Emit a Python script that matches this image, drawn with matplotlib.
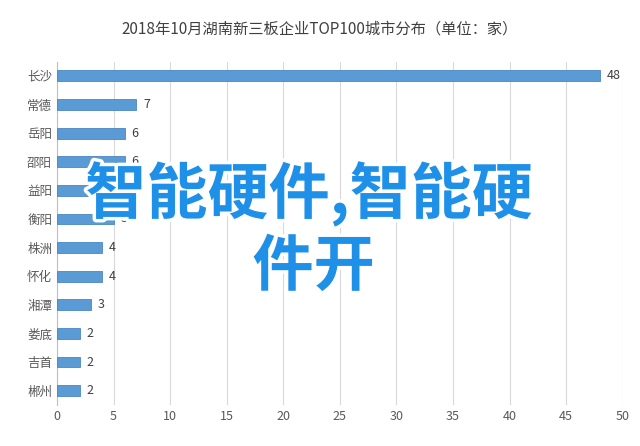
import matplotlib.pyplot as plt
import matplotlib.patheffects as pe

plt.rcParams['font.family'] = 'Noto Sans CJK SC'

cities = ['长沙', '常德', '岳阳', '邵阳', '益阳', '衡阳', '株洲', '怀化', '湘潭', '娄底', '吉首', '郴州']
counts = [48, 7, 6, 6, 5, 5, 4, 4, 3, 2, 2, 2]
xticks = list(range(0, 51, 5))

fig = plt.figure(figsize=(6.4, 4.46), dpi=100)
ax = fig.add_axes([0.089, 0.092, 0.884, 0.77])
y = list(range(len(cities)))
ax.barh(y, counts, height=0.38, color='#5b9bd5', edgecolor='#4a86c0', linewidth=0.6, zorder=3)
for yi, v in zip(y, counts):
    ax.text(v + 0.6, yi, str(v), va='center', ha='left', fontsize=9, color='#404040')
ax.set_yticks(y)
ax.set_yticklabels(cities, fontsize=9, color='#595959')
ax.invert_yaxis()
ax.set_ylim(len(cities) - 0.5, -0.5)
ax.set_xlim(0, 50)
ax.set_xticks(xticks)
ax.tick_params(axis='x', labelsize=9, colors='#595959', length=0)
ax.tick_params(axis='y', length=0)
ax.grid(axis='x', color='#d9d9d9', linewidth=0.8, zorder=0)
for s in ['top', 'right', 'bottom']:
    ax.spines[s].set_visible(False)
ax.spines['left'].set_color('#bfbfbf')
fig.text(0.5, 0.935, '2018年10月湖南新三板企业TOP100城市分布（单位：家）', ha='center', va='center',
         fontsize=11, color='#404040')

# overlay text
fx = [pe.withStroke(linewidth=5, foreground='white')]
fig.text(0.483, 0.565, '智能硬件,智能硬', ha='center', va='center', fontsize=44,
         color='#1e90e8', fontweight='bold', path_effects=fx)
fig.text(0.49, 0.40, '件开', ha='center', va='center', fontsize=44,
         color='#1e90e8', fontweight='bold', path_effects=fx)

fig.savefig('out.png', dpi=100)
